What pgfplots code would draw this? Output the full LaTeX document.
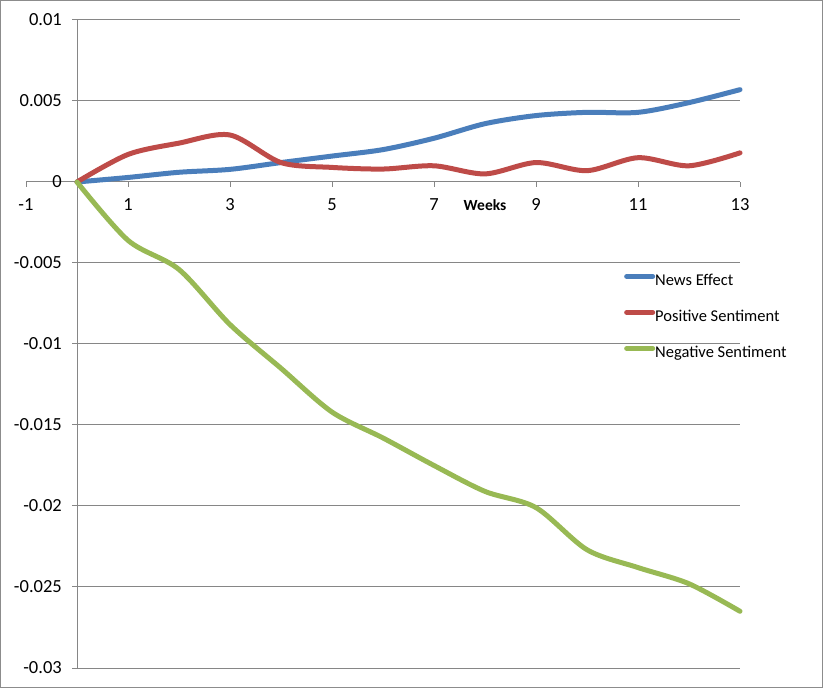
\documentclass[border=0pt]{standalone}
\usepackage{fontspec}
\setmainfont{Carlito}
\usepackage{pgfplots}
\pgfplotsset{compat=1.18}
\definecolor{axisgray}{HTML}{868686}
\definecolor{bordergray}{HTML}{8C8C8C}
\definecolor{cblue}{HTML}{4A7EBB}
\definecolor{cred}{HTML}{BE4B48}
\definecolor{cgreen}{HTML}{98B954}
\newcommand\tickfont{\fontsize{18.5bp}{22bp}\selectfont}
\newcommand\legfont{\fontsize{16.5bp}{20bp}\selectfont}
\newcommand\wfont{\fontsize{15.5bp}{18bp}\selectfont\bfseries}
\begin{document}
\begin{tikzpicture}
\useasboundingbox (-26bp,-22bp) rectangle (798bp,668bp);
\begin{axis}[
  at={(0,0)}, anchor=south west,
  scale only axis, width=714bp, height=648bp,
  xmin=-1, xmax=13, ymin=-0.03, ymax=0.01,
  axis lines=middle,
  axis line style={draw=axisgray, line width=1bp, -},
  xtick={-1,1,3,5,7,9,11,13},
  ytick={-0.03,-0.025,-0.02,-0.015,-0.01,-0.005,0,0.005,0.01},
  yticklabels={-0.03,-0.025,-0.02,-0.015,-0.01,-0.005,0,0.005,0.01},
  hide obscured x ticks=false, hide obscured y ticks=false,
  tick style={draw=axisgray, line width=1bp},
  major tick length=5bp,
  tick align=outside,
  scaled y ticks=false,
  /pgf/number format/assume math mode=true,
  xticklabel style={font=\tickfont, inner sep=0, anchor=north, yshift=-11bp},
  yticklabel style={font=\tickfont, inner sep=0, anchor=east, xshift=-10bp},
  clip=false,
  legend style={at={(0.8375,0.6093)}, anchor=north west, draw=none, fill=none,
    inner sep=0pt, row sep=20bp, column sep=0bp, font=\legfont,
    nodes={inner sep=0pt, text height=12bp, text depth=4bp, anchor=west}},
  legend cell align=left,
  legend image code/.code={\draw[#1, line width=5bp, line cap=round] (2.5bp,5bp) -- (28.5bp,5bp);},
]
\pgfplotsinvokeforeach{-0.03,-0.025,-0.02,-0.015,-0.01,-0.005,0.005,0.01}{
  \draw[axisgray, line width=1bp] (axis cs:0,#1) -- (axis cs:13,#1);
}
\addplot[cblue, line width=5bp, smooth, line cap=round, line join=round] coordinates {
(0,0) (1,0.00028) (2,0.0006) (3,0.00078) (4,0.0012) (5,0.0016) (6,0.002)
(7,0.0027) (8,0.0036) (9,0.0041) (10,0.0043) (11,0.0043) (12,0.0049) (13,0.0057)};
\addlegendentry{News Effect}
\addplot[cred, line width=5bp, smooth, line cap=round, line join=round] coordinates {
(0,0) (1,0.0017) (2,0.0024) (3,0.0029) (4,0.0012) (5,0.0009) (6,0.0008)
(7,0.001) (8,0.0005) (9,0.0012) (10,0.0007) (11,0.0015) (12,0.001) (13,0.0018)};
\addlegendentry{Positive Sentiment}
\addplot[cgreen, line width=5bp, smooth, line cap=round, line join=round] coordinates {
(0,0) (1,-0.0036) (2,-0.0054) (3,-0.0088) (4,-0.0115) (5,-0.0142) (6,-0.0158)
(7,-0.0175) (8,-0.0191) (9,-0.0201) (10,-0.0227) (11,-0.0238) (12,-0.0248) (13,-0.0265)};
\addlegendentry{Negative Sentiment}
\node[anchor=base, font=\wfont, inner sep=0] at (axis cs:8.0,-0.00173) {Weeks};
\end{axis}
\draw[bordergray, line width=1bp] (-25bp,-19bp) rectangle (796bp,667bp);
\end{tikzpicture}
\end{document}
